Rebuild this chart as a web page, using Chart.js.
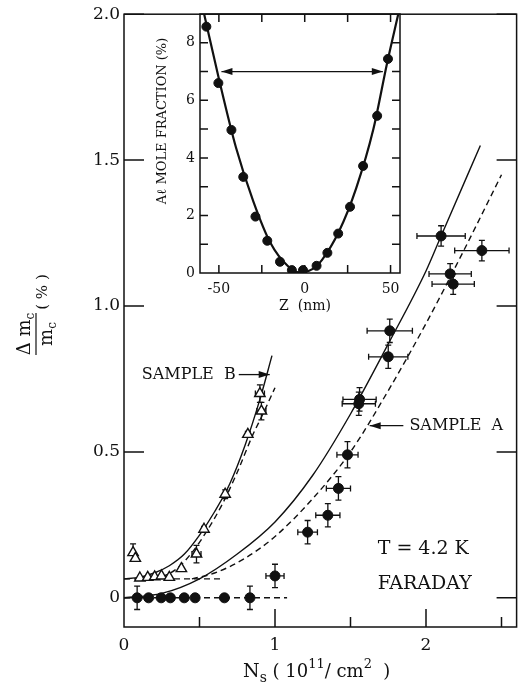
<!DOCTYPE html>
<html>
<head>
<meta charset="utf-8">
<script src="https://cdn.jsdelivr.net/npm/chart.js@4/dist/chart.umd.min.js"></script>
<style>
html, body { margin: 0; padding: 0; background: #fff; overflow: hidden; width: 518px; height: 691px; }
#main { position: absolute; left: 0; top: 0; }
#inset { position: absolute; left: 140px; top: 0; }
</style>
</head>
<body>
<canvas id="main" width="524" height="691"></canvas>
<canvas id="inset" width="270" height="320"></canvas>
<script>
// sample A (filled circles), N_s in 1e11/cm^2, delta m_c / m_c in %
const sampleA_N = [0.087, 0.163, 0.246, 0.307, 0.399, 0.471, 0.665, 0.834, 1.00, 1.216, 1.35, 1.42, 1.48, 1.555, 1.56, 1.75, 1.76, 2.10, 2.16, 2.18, 2.37];
const sampleA_V = [0, 0, 0, 0, 0, 0, 0, 0, 0.075, 0.225, 0.283, 0.375, 0.49, 0.665, 0.68, 0.826, 0.915, 1.24, 1.11, 1.075, 1.19];
const sampleA_dN = [0, 0, 0, 0, 0, 0, 0, 0, 0.06, 0.065, 0.08, 0.08, 0.07, 0.11, 0.11, 0.13, 0.15, 0.16, 0.14, 0.14, 0.18];
const sampleA_dV = [0.04, 0, 0, 0, 0, 0, 0, 0.04, 0.04, 0.04, 0.04, 0.04, 0.045, 0.04, 0.04, 0.04, 0.04, 0.035, 0.035, 0.035, 0.035];

// sample B (open triangles)
const sampleB_N = [0.06, 0.075, 0.105, 0.157, 0.203, 0.248, 0.30, 0.38, 0.48, 0.53, 0.67, 0.82, 0.90, 0.91];
const sampleB_V = [0.155, 0.135, 0.068, 0.07, 0.072, 0.075, 0.07, 0.10, 0.15, 0.235, 0.355, 0.56, 0.70, 0.64];
const sampleB_dN = [0, 0, 0, 0, 0, 0, 0, 0, 0.03, 0, 0.01, 0, 0.03, 0.03];
const sampleB_dV = [0.03, 0, 0, 0, 0, 0, 0, 0, 0.03, 0.01, 0.015, 0.01, 0.03, 0.03];

// theory curves
const solidA_N = [0, 0.25, 0.5, 0.75, 1.0, 1.25, 1.5, 1.75, 2.0, 2.1, 2.36];
const solidA_V = [0, 0.015, 0.065, 0.15, 0.26, 0.42, 0.63, 0.87, 1.12, 1.24, 1.55];
const dashA_N = [0.45, 0.6, 0.8, 1.0, 1.25, 1.5, 1.75, 2.0, 2.25, 2.5];
const dashA_V = [0.065, 0.085, 0.135, 0.21, 0.34, 0.5, 0.71, 0.94, 1.19, 1.45];
const solidB_N = [0, 0.1, 0.2, 0.3, 0.4, 0.5, 0.6, 0.7, 0.8, 0.9, 0.98];
const solidB_V = [0.065, 0.07, 0.085, 0.11, 0.15, 0.215, 0.295, 0.39, 0.52, 0.68, 0.83];
const dashB_N = [0.25, 0.35, 0.45, 0.55, 0.65, 0.75, 0.85, 0.92, 1.0];
const dashB_V = [0.07, 0.1, 0.155, 0.23, 0.32, 0.43, 0.555, 0.63, 0.72];
const flatB_N = [0, 0.65];
const flatB_V = [0.065, 0.065];
const flatA_N = [0, 1.08];
const flatA_V = [0, 0];

const xTickVals = [0, 0.5, 1, 1.5, 2, 2.5];
const xTickLabels = ['0', '', '1', '', '2', ''];
const yTickVals = [0, 0.5, 1.0, 1.5, 2.0];
const yTickLabels = ['0', '0.5', '1.0', '1.5', '2.0'];

// inset: Al mole fraction profile
const profileZ = [-57.3, -50.3, -42.7, -35.8, -28.7, -21.8, -14.4, -7.5, -1, 6.9, 13.2, 19.5, 26.4, 34, 42.2, 48.5];
const profileAl = [8.56, 6.6, 4.97, 3.34, 1.96, 1.12, 0.39, 0.1, 0.1, 0.25, 0.7, 1.37, 2.3, 3.72, 5.46, 7.44];
const fitZ = [-58.6, -50, -40, -30, -20, -10, -3, 5, 10, 20, 30, 40, 48, 54.5];
const fitAl = [9.0, 6.75, 4.35, 2.5, 1.05, 0.25, 0.02, 0.15, 0.45, 1.45, 2.95, 5.0, 7.3, 9.0];
const insetXTicks = [-50, -25, 0, 25, 50];
const insetXLabels = ['-50', '', '0', '', '50'];
const insetYTicks = [0, 1, 2, 3, 4, 5, 6, 7, 8, 9];
const insetYLabels = ['0', '', '2', '', '4', '', '6', '', '8', ''];

const INK = '#111';
const SERIF = '"DejaVu Serif", "Liberation Serif", serif';

function pts(xs, ys) { return xs.map((x, i) => ({ x: x, y: ys[i] })); }

function lineSet(xs, ys, dashed, width) {
    return {
        data: pts(xs, ys), showLine: true, pointRadius: 0,
        borderColor: INK, borderWidth: width || 1.4,
        borderDash: dashed ? [6, 4] : [],
        cubicInterpolationMode: 'monotone', fill: false
    };
}

function arrowHead(ctx, x, y, dir) {
    ctx.beginPath();
    ctx.moveTo(x, y);
    ctx.lineTo(x - dir * 11, y - 3.5);
    ctx.lineTo(x - dir * 11, y + 3.5);
    ctx.closePath();
    ctx.fill();
}

function drawErrors(chart) {
    const ctx = chart.ctx, sx = chart.scales.x, sy = chart.scales.y;
    ctx.save();
    ctx.strokeStyle = INK;
    ctx.lineWidth = 1.3;
    chart.data.datasets.forEach(ds => {
        if (!ds.errX) return;
        ds.data.forEach((p, i) => {
            const x = sx.getPixelForValue(p.x), y = sy.getPixelForValue(p.y);
            ctx.beginPath();
            if (ds.errX[i]) {
                const x0 = sx.getPixelForValue(p.x - ds.errX[i]);
                const x1 = sx.getPixelForValue(p.x + ds.errX[i]);
                ctx.moveTo(x0, y); ctx.lineTo(x1, y);
                ctx.moveTo(x0, y - 3); ctx.lineTo(x0, y + 3);
                ctx.moveTo(x1, y - 3); ctx.lineTo(x1, y + 3);
            }
            if (ds.errY[i]) {
                const y0 = sy.getPixelForValue(p.y - ds.errY[i]);
                const y1 = sy.getPixelForValue(p.y + ds.errY[i]);
                ctx.moveTo(x, y0); ctx.lineTo(x, y1);
                ctx.moveTo(x - 3, y0); ctx.lineTo(x + 3, y0);
                ctx.moveTo(x - 3, y1); ctx.lineTo(x + 3, y1);
            }
            ctx.stroke();
        });
    });
    ctx.restore();
}

const mainDecor = {
    id: 'mainDecor',
    beforeDatasetsDraw(chart) { drawErrors(chart); },
    afterDraw(chart) {
        const ctx = chart.ctx, a = chart.chartArea;
        const sx = chart.scales.x, sy = chart.scales.y;
        ctx.save();
        ctx.strokeStyle = INK;
        ctx.fillStyle = INK;
        ctx.lineWidth = 1.5;
        ctx.strokeRect(a.left, a.top, a.right - a.left, a.bottom - a.top);

        // inward ticks
        ctx.beginPath();
        yTickVals.forEach(v => {
            const y = sy.getPixelForValue(v);
            ctx.moveTo(a.left, y); ctx.lineTo(a.left + 20, y);
            ctx.moveTo(a.right, y); ctx.lineTo(a.right - 20, y);
        });
        xTickVals.forEach(v => {
            if (v === 0) return;
            const x = sx.getPixelForValue(v);
            const len = Number.isInteger(v) ? 18 : 10;
            ctx.moveTo(x, a.bottom); ctx.lineTo(x, a.bottom - len);
        });
        ctx.stroke();

        // labels and arrows
        ctx.textBaseline = 'middle';
        ctx.textAlign = 'left';
        ctx.font = '16px ' + SERIF;
        ctx.fillText('SAMPLE  B', sx.getPixelForValue(0.118), sy.getPixelForValue(0.765));
        ctx.fillText('SAMPLE  A', sx.getPixelForValue(1.89), sy.getPixelForValue(0.59));
        ctx.lineWidth = 1.3;
        let yB = sy.getPixelForValue(0.765);
        ctx.beginPath();
        ctx.moveTo(sx.getPixelForValue(0.76), yB); ctx.lineTo(sx.getPixelForValue(0.965), yB);
        ctx.stroke();
        arrowHead(ctx, sx.getPixelForValue(0.965), yB, 1);
        let yA = sy.getPixelForValue(0.59);
        ctx.beginPath();
        ctx.moveTo(sx.getPixelForValue(1.85), yA); ctx.lineTo(sx.getPixelForValue(1.627), yA);
        ctx.stroke();
        arrowHead(ctx, sx.getPixelForValue(1.627), yA, -1);

        ctx.font = '19px ' + SERIF;
        ctx.fillText('T = 4.2 K', sx.getPixelForValue(1.68), sy.getPixelForValue(0.167));
        ctx.fillText('FARADAY', sx.getPixelForValue(1.68), sy.getPixelForValue(0.048));

        // y axis title: delta m_c / m_c (%)
        ctx.save();
        ctx.translate(36, 334);
        ctx.rotate(-Math.PI / 2);
        ctx.textBaseline = 'alphabetic';
        ctx.lineWidth = 1.2;
        ctx.beginPath(); ctx.moveTo(-21, 0); ctx.lineTo(21, 0); ctx.stroke();
        ctx.font = '18px ' + SERIF;
        let w1 = ctx.measureText('\u0394 m').width;
        ctx.font = '12px ' + SERIF;
        let ws = ctx.measureText('c').width;
        let s = -(w1 + ws) / 2;
        ctx.font = '18px ' + SERIF;
        ctx.fillText('\u0394 m', s, -6);
        ctx.font = '12px ' + SERIF;
        ctx.fillText('c', s + w1, -2);
        ctx.font = '18px ' + SERIF;
        let w2 = ctx.measureText('m').width;
        s = -(w2 + ws) / 2;
        ctx.fillText('m', s, 16);
        ctx.font = '12px ' + SERIF;
        ctx.fillText('c', s + w2, 20);
        ctx.font = '15px ' + SERIF;
        ctx.textAlign = 'center';
        ctx.fillText('( % )', 42, 11);
        ctx.restore();

        // x axis title: N_s (10^11 / cm^2)
        ctx.textBaseline = 'alphabetic';
        ctx.textAlign = 'left';
        let x = 243, base = 677;
        const put = (t, size, dy) => {
            ctx.font = size + 'px ' + SERIF;
            ctx.fillText(t, x, base + dy);
            x += ctx.measureText(t).width;
        };
        put('N', 19, 0); put('s', 14, 5); put(' ( 10', 18, 0); put('11', 13, -9);
        put('/ cm', 18, 0); put('2', 13, -9); put('  )', 18, 0);
        ctx.restore();
    }
};

new Chart(document.getElementById('main'), {
    type: 'scatter',
    data: {
        datasets: [
            Object.assign({
                data: pts(sampleA_N, sampleA_V), pointStyle: 'circle', pointRadius: 5,
                backgroundColor: INK, borderColor: INK, borderWidth: 1, showLine: false
            }, { errX: sampleA_dN, errY: sampleA_dV }),
            Object.assign({
                data: pts(sampleB_N, sampleB_V), pointStyle: 'triangle', pointRadius: 6,
                backgroundColor: '#fff', borderColor: INK, borderWidth: 1.4, showLine: false
            }, { errX: sampleB_dN, errY: sampleB_dV }),
            lineSet(solidA_N, solidA_V, false),
            lineSet(dashA_N, dashA_V, true),
            lineSet(solidB_N, solidB_V, false),
            lineSet(dashB_N, dashB_V, true),
            lineSet(flatB_N, flatB_V, true),
            lineSet(flatA_N, flatA_V, true)
        ]
    },
    options: {
        responsive: false,
        animation: false,
        devicePixelRatio: 1,
        layout: { padding: { top: 11, right: 2, left: 0, bottom: 0 } },
        plugins: { legend: { display: false }, tooltip: { enabled: false } },
        scales: {
            x: {
                type: 'linear', min: 0, max: 2.6,
                grid: { display: false, drawTicks: false },
                border: { display: false },
                afterBuildTicks: s => { s.ticks = xTickVals.map(v => ({ value: v })); },
                afterFit: s => { s.height = 64; },
                ticks: {
                    padding: 8, color: INK, autoSkip: false, maxRotation: 0,
                    font: { family: SERIF, size: 17 },
                    callback: (v, i) => xTickLabels[i]
                }
            },
            y: {
                type: 'linear', min: -0.1, max: 2.0,
                grid: { display: false, drawTicks: false },
                border: { display: false },
                afterBuildTicks: s => { s.ticks = yTickVals.map(v => ({ value: v })); },
                afterFit: s => { s.width = 124; },
                ticks: {
                    padding: 4, color: INK, autoSkip: false,
                    font: { family: SERIF, size: 17 },
                    callback: (v, i) => yTickLabels[i]
                }
            }
        }
    },
    plugins: [mainDecor]
});

const insetDecor = {
    id: 'insetDecor',
    afterDraw(chart) {
        const ctx = chart.ctx, a = chart.chartArea;
        const sx = chart.scales.x, sy = chart.scales.y;
        ctx.save();
        ctx.strokeStyle = INK;
        ctx.fillStyle = INK;
        ctx.lineWidth = 1.5;
        ctx.strokeRect(a.left, a.top, a.right - a.left, a.bottom - a.top);
        ctx.beginPath();
        insetXTicks.forEach(v => {
            const x = sx.getPixelForValue(v);
            ctx.moveTo(x, a.bottom); ctx.lineTo(x, a.bottom - 8);
            ctx.moveTo(x, a.top); ctx.lineTo(x, a.top + 8);
        });
        insetYTicks.forEach(v => {
            if (v === 0 || v === 9) return;
            const y = sy.getPixelForValue(v);
            ctx.moveTo(a.left, y); ctx.lineTo(a.left + 8, y);
            ctx.moveTo(a.right, y); ctx.lineTo(a.right - 8, y);
        });
        ctx.stroke();

        // double arrow at 7 %
        const y7 = sy.getPixelForValue(7);
        const xl = sx.getPixelForValue(-48.5), xr = sx.getPixelForValue(45.5);
        ctx.lineWidth = 1.3;
        ctx.beginPath(); ctx.moveTo(xl, y7); ctx.lineTo(xr, y7); ctx.stroke();
        arrowHead(ctx, xl, y7, -1);
        arrowHead(ctx, xr, y7, 1);

        // titles
        ctx.font = '14px ' + SERIF;
        ctx.textAlign = 'center';
        ctx.textBaseline = 'middle';
        ctx.fillText('Z  (nm)', 165, 306);
        ctx.save();
        ctx.translate(23, 121);
        ctx.rotate(-Math.PI / 2);
        ctx.font = '13px ' + SERIF;
        ctx.fillText('A\u2113 MOLE FRACTION (%)', 0, 0);
        ctx.restore();
        ctx.restore();
    }
};

new Chart(document.getElementById('inset'), {
    type: 'scatter',
    data: {
        datasets: [
            {
                data: pts(profileZ, profileAl), pointStyle: 'circle', pointRadius: 4.5,
                backgroundColor: INK, borderColor: INK, borderWidth: 1, showLine: false
            },
            lineSet(fitZ, fitAl, false, 2.2)
        ]
    },
    options: {
        responsive: false,
        animation: false,
        devicePixelRatio: 1,
        layout: { padding: { top: 14, right: 10, left: 0, bottom: 0 } },
        plugins: { legend: { display: false }, tooltip: { enabled: false } },
        scales: {
            x: {
                type: 'linear', min: -61, max: 55.5,
                grid: { display: false, drawTicks: false },
                border: { display: false },
                afterBuildTicks: s => { s.ticks = insetXTicks.map(v => ({ value: v })); },
                afterFit: s => { s.height = 47; },
                ticks: {
                    padding: 8, color: INK, autoSkip: false, maxRotation: 0,
                    font: { family: SERIF, size: 14 },
                    callback: (v, i) => insetXLabels[i]
                }
            },
            y: {
                type: 'linear', min: 0, max: 9,
                grid: { display: false, drawTicks: false },
                border: { display: false },
                afterBuildTicks: s => { s.ticks = insetYTicks.map(v => ({ value: v })); },
                afterFit: s => { s.width = 60; },
                ticks: {
                    padding: 5, color: INK, autoSkip: false,
                    font: { family: SERIF, size: 14 },
                    callback: (v, i) => insetYLabels[i]
                }
            }
        }
    },
    plugins: [insetDecor]
});
</script>
</body>
</html>
